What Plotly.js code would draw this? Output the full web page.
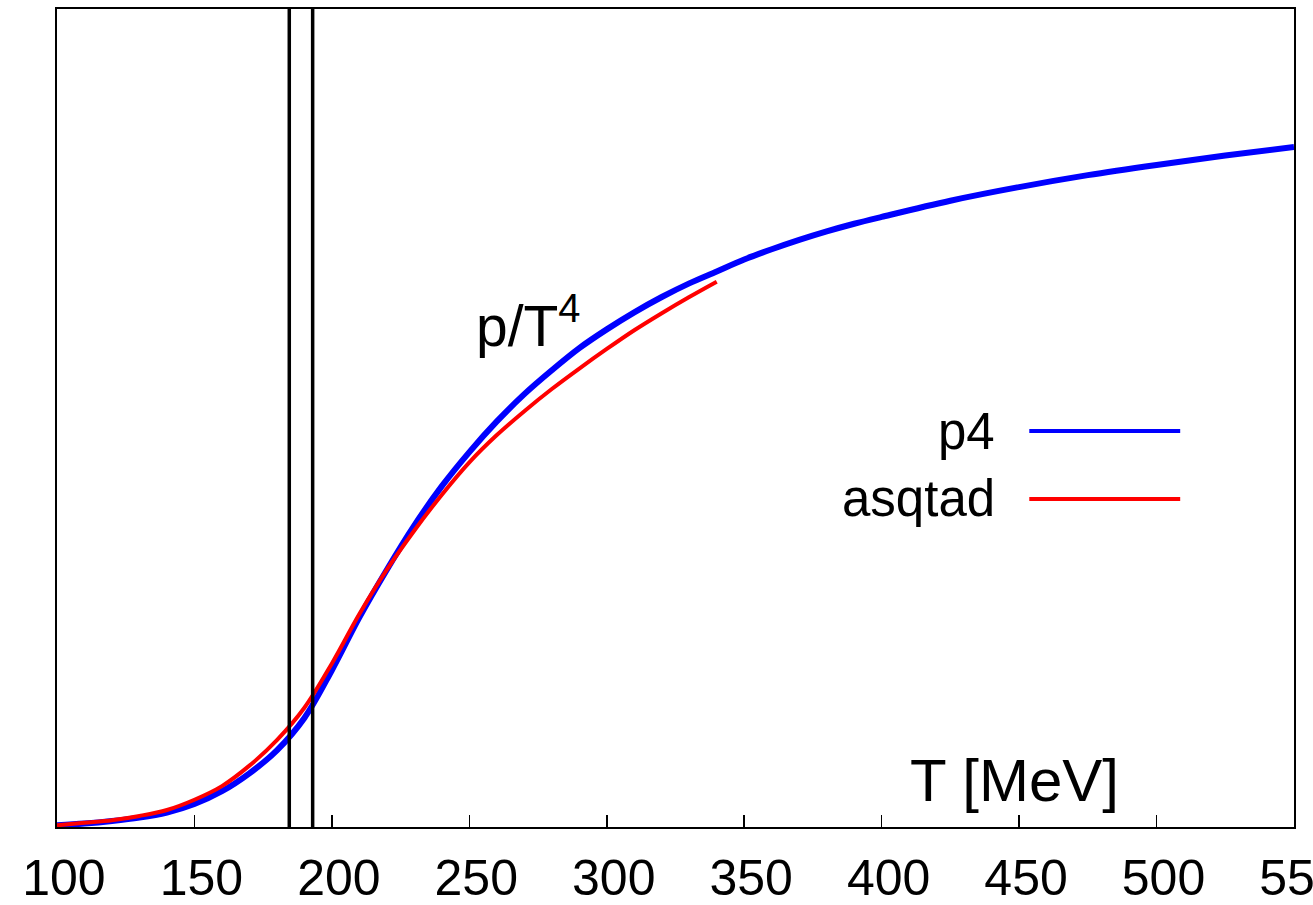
<!DOCTYPE html>
<html>
<head>
<meta charset="utf-8">
<script src="https://cdn.plot.ly/plotly-3.0.1.min.js"></script>
<style>
  html, body { margin: 0; padding: 0; background: #fff; }
  #chart { width: 1313px; height: 905px; }
</style>
</head>
<body>
<div id="chart"></div>
<script>
// Temperature grid [MeV] and pressure p/T^4 for the p4 action
const p4T = [100, 110, 120, 130, 140, 150, 160, 170, 180, 190, 200, 210, 220, 230, 240, 250,
             260, 270, 280, 290, 300, 310, 320, 330, 340, 350, 360, 370, 380, 390, 400,
             425, 450, 475, 500, 525, 550];
const p4Pressure = [0.01, 0.02, 0.035, 0.055, 0.085, 0.135, 0.21, 0.315, 0.45, 0.64, 0.92, 1.23, 1.51, 1.77, 2.00, 2.20,
                    2.38, 2.54, 2.68, 2.81, 2.92, 3.02, 3.11, 3.19, 3.26, 3.33, 3.39, 3.445, 3.495, 3.54, 3.58,
                    3.675, 3.755, 3.825, 3.885, 3.94, 3.99];

// Temperature grid [MeV] and pressure p/T^4 for the asqtad action
const asqtadT = [100, 110, 120, 130, 140, 150, 160, 170, 180, 190, 200, 210, 220, 230, 240, 250,
                 260, 270, 280, 290, 300, 310, 320, 330, 340];
const asqtadPressure = [0.01, 0.025, 0.04, 0.065, 0.10, 0.16, 0.24, 0.36, 0.51, 0.70, 0.96, 1.25, 1.51, 1.74, 1.95, 2.14,
                        2.30, 2.44, 2.57, 2.69, 2.805, 2.915, 3.015, 3.11, 3.20];

// Transition region boundaries [MeV]
const tcBand = [184.5, 193];

// Axis ticks
const tickValues = [100, 150, 200, 250, 300, 350, 400, 450, 500, 550];
const tickLabels = ['100', '150', '200', '250', '300', '350', '400', '450', '500', '550'];

const seriesNames = ['p4', 'asqtad'];
const seriesColors = ['#0000ff', '#ff0000'];

const FONT = 'Liberation Sans, Arial, Helvetica, sans-serif';

const traces = [
  {
    x: p4T, y: p4Pressure, name: seriesNames[0], mode: 'lines',
    line: { color: seriesColors[0], width: 6, shape: 'spline', smoothing: 1 },
    hoverinfo: 'x+y+name'
  },
  {
    x: asqtadT, y: asqtadPressure, name: seriesNames[1], mode: 'lines',
    line: { color: seriesColors[1], width: 4, shape: 'spline', smoothing: 1 },
    hoverinfo: 'x+y+name'
  }
];

// Vertical lines marking the transition region
const shapes = tcBand.map(t => ({
  type: 'line', xref: 'x', yref: 'paper',
  x0: t, x1: t, y0: 0, y1: 1,
  line: { color: '#000', width: 3.5 }
}));

// Key: label on the left, line sample on the right
const keyY = [0.484, 0.401];
const annotations = [];
seriesNames.forEach((name, i) => {
  shapes.push({
    type: 'line', xref: 'paper', yref: 'paper',
    x0: 0.786, x1: 0.908, y0: keyY[i], y1: keyY[i],
    line: { color: seriesColors[i], width: 4 }
  });
  annotations.push({
    xref: 'paper', yref: 'paper', x: 0.76, y: keyY[i],
    xanchor: 'right', yanchor: 'middle', showarrow: false,
    text: name, font: { family: FONT, size: 51, color: '#000' }
  });
});

annotations.push({
  xref: 'paper', yref: 'paper', x: 0.337, y: 0.617,
  xanchor: 'left', yanchor: 'middle', showarrow: false,
  text: 'p/T<sup>4</sup>', font: { family: FONT, size: 57, color: '#000' }
});

annotations.push({
  xref: 'paper', yref: 'paper', x: 0.774, y: 0.057,
  xanchor: 'center', yanchor: 'middle', showarrow: false,
  text: 'T [MeV]', font: { family: FONT, size: 60, color: '#000' }
});

const layout = {
  width: 1313, height: 905,
  margin: { l: 57, r: 19, t: 9, b: 78, pad: 0 },
  paper_bgcolor: '#fff', plot_bgcolor: '#fff',
  showlegend: false,
  font: { family: FONT, color: '#000' },
  xaxis: {
    range: [100, 550],
    tickmode: 'array', tickvals: tickValues,
    // labels sit slightly right of their tick marks
    ticktext: tickLabels.map(s => '\u00a0' + s),
    ticks: 'inside', ticklen: 12, tickwidth: 1.5, tickcolor: '#000',
    tickfont: { family: FONT, size: 50, color: '#000' },
    ticklabelstandoff: 6,
    ticklabeloverflow: 'allow',
    showgrid: false, zeroline: false,
    showline: true, linecolor: '#000', linewidth: 2, mirror: true,
    automargin: false
  },
  yaxis: {
    range: [0, 4.8],
    showticklabels: false, ticks: '',
    showgrid: false, zeroline: false,
    showline: true, linecolor: '#000', linewidth: 2, mirror: true,
    automargin: false
  },
  shapes: shapes,
  annotations: annotations
};

Plotly.newPlot('chart', traces, layout, { displayModeBar: false, staticPlot: true });
</script>
</body>
</html>
